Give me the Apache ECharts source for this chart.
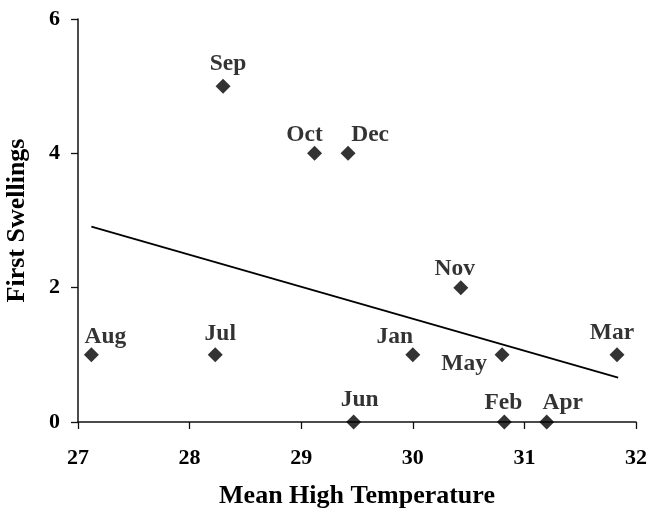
<!DOCTYPE html>
<html>
<head>
<meta charset="utf-8">
<script src="https://cdn.jsdelivr.net/npm/echarts@6/dist/echarts.min.js"></script>
<style>
  html, body { margin: 0; padding: 0; background: #fff; }
  #chart { width: 648px; height: 508px; }
</style>
</head>
<body>
<div id="chart"></div>
<script>
// Monthly observations: mean high temperature vs. number of first swellings
const months      = ['Aug', 'Jul', 'Sep', 'Oct', 'Dec', 'Jun', 'Jan', 'Nov', 'May', 'Feb', 'Apr', 'Mar'];
const meanHighTemp = [27.12, 28.23, 28.30, 29.12, 29.42, 29.47, 30.00, 30.43, 30.80, 30.82, 31.20, 31.83];
const firstSwellings = [1, 1, 5, 4, 4, 0, 1, 2, 1, 0, 0, 1];

// Linear trend line end points
const trendX = [27.12, 31.84];
const trendY = [2.91, 0.66];

// Axis ticks
const xTicks = [27, 28, 29, 30, 31, 32];
const yTicks = [0, 2, 4, 6];

// Where each month label sits relative to its marker (pixels)
const labelOffsets = {
  Aug: [14, -18], Jul: [5, -21], Sep: [5, -22], Oct: [-10, -18],
  Dec: [22, -18], Jun: [6, -22], Jan: [-18, -18], Nov: [-6, -19],
  May: [-38, 9], Feb: [-1, -19], Apr: [16, -19], Mar: [-5, -22]
};

const FONT = '"Liberation Serif", "Times New Roman", serif';
const INK = '#000';

const points = months.map((m, i) => ({
  value: [meanHighTemp[i], firstSwellings[i]],
  name: m,
  label: { offset: labelOffsets[m] }
}));

const chart = echarts.init(document.getElementById('chart'), null, { renderer: 'canvas' });
chart.setOption({
  animation: false,
  backgroundColor: '#fff',
  grid: { left: 78, right: 12, top: 19, bottom: 86, containLabel: false, outerBoundsMode: 'none' },
  xAxis: {
    type: 'value',
    min: xTicks[0],
    max: xTicks[xTicks.length - 1],
    interval: xTicks[1] - xTicks[0],
    name: 'Mean High Temperature',
    nameLocation: 'middle',
    nameGap: 61,
    nameTextStyle: { fontFamily: FONT, fontWeight: 'bold', fontSize: 26, color: INK },
    axisLine: { show: true, onZero: false, lineStyle: { color: '#111', width: 1.5 } },
    axisTick: { show: true, inside: false, length: 7, lineStyle: { color: '#111', width: 1.3 } },
    axisLabel: { margin: 25, fontFamily: FONT, fontWeight: 'bold', fontSize: 22, color: INK },
    splitLine: { show: false }
  },
  yAxis: {
    type: 'value',
    min: yTicks[0],
    max: yTicks[yTicks.length - 1],
    interval: yTicks[1] - yTicks[0],
    name: 'First Swellings',
    nameLocation: 'middle',
    nameRotate: 90,
    nameGap: 48,
    nameTextStyle: { fontFamily: FONT, fontWeight: 'bold', fontSize: 26, color: INK },
    axisLine: { show: true, onZero: false, lineStyle: { color: '#111', width: 1.5 } },
    axisTick: { show: true, inside: false, length: 7, lineStyle: { color: '#111', width: 1.3 } },
    axisLabel: { margin: 18, fontFamily: FONT, fontWeight: 'bold', fontSize: 22, color: INK, padding: [3, 0, 0, 0] },
    splitLine: { show: false }
  },
  series: [
    {
      type: 'line',
      data: trendX.map((x, i) => [x, trendY[i]]),
      showSymbol: false,
      symbol: 'none',
      lineStyle: { color: INK, width: 1.8 },
      z: 1,
      silent: true
    },
    {
      type: 'scatter',
      data: points,
      symbol: 'diamond',
      symbolSize: [15, 15],
      itemStyle: { color: INK },
      z: 3,
      label: {
        show: true,
        position: 'inside',
        formatter: p => p.name,
        fontFamily: FONT,
        fontWeight: 'bold',
        fontSize: 23.5,
        color: INK
      }
    }
  ]
});
</script>
</body>
</html>
